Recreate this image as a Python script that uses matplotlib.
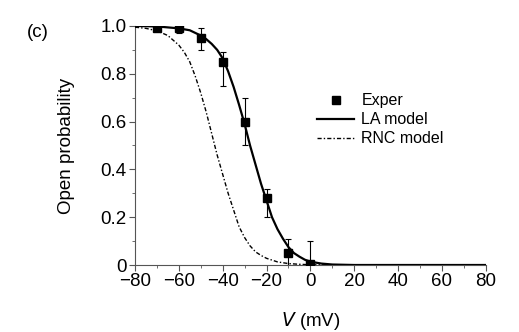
import matplotlib
matplotlib.use("Agg")
import matplotlib.pyplot as plt
from matplotlib.ticker import MultipleLocator

plt.rcParams['font.family'] = ['Liberation Sans', 'DejaVu Sans']

# Experimental data
exp_v = [-70, -60, -50, -40, -30, -20, -10, 0]
exp_p = [0.99, 0.99, 0.95, 0.85, 0.60, 0.28, 0.05, 0.005]
exp_err_up = [0.005, 0.01, 0.04, 0.04, 0.10, 0.04, 0.06, 0.095]
exp_err_dn = [0.005, 0.02, 0.05, 0.10, 0.10, 0.08, 0.05, 0.005]

# LA model curve
la_v = [-80, -70, -60, -55, -50, -47.5, -45, -42.5, -40, -37.5, -35, -32.5, -30,
        -27.5, -25, -22.5, -20, -17.5, -15, -12.5, -10, -7.5, -5, -2.5, 0, 5, 10, 20, 80]
la_p = [1.0, 0.998, 0.99, 0.982, 0.96, 0.945, 0.925, 0.90, 0.865, 0.81, 0.745, 0.67, 0.59,
        0.50, 0.42, 0.34, 0.27, 0.20, 0.15, 0.11, 0.075, 0.05, 0.035, 0.022, 0.014, 0.006, 0.002, 0.0, 0.0]

# RNC model curve
rnc_v = [-80, -75, -70, -65, -60, -57.5, -55, -52.5, -50, -47.5, -45, -42.5, -40, -37.5,
         -35, -32.5, -30, -27.5, -25, -22.5, -20, -15, -10, -5, 0, 10, 20]
rnc_p = [0.995, 0.99, 0.98, 0.96, 0.92, 0.89, 0.85, 0.79, 0.72, 0.64, 0.55, 0.46, 0.38, 0.30,
         0.23, 0.16, 0.115, 0.08, 0.055, 0.04, 0.028, 0.013, 0.006, 0.003, 0.001, 0.0, 0.0]

x_ticks = [-80, -60, -40, -20, 0, 20, 40, 60, 80]
x_ticklabels = ['\u221280', '\u221260', '\u221240', '\u221220', '0', '20', '40', '60', '80']
y_ticks = [0, 0.2, 0.4, 0.6, 0.8, 1.0]
y_ticklabels = ['0', '0.2', '0.4', '0.6', '0.8', '1.0']

fig = plt.figure(figsize=(5.19, 3.32), dpi=100)
ax = fig.add_axes([0.26, 0.2018, 0.676, 0.72])

ax.errorbar(exp_v, exp_p, yerr=[exp_err_dn, exp_err_up], fmt='none', ecolor='black',
            elinewidth=0.8, capsize=2.5, capthick=0.8, zorder=2)
ax.plot(exp_v, exp_p, 's', color='black', markersize=6, label='Exper', zorder=4)
ax.plot(la_v, la_p, '-', color='black', linewidth=1.6, label='LA model', zorder=3)
ax.plot(rnc_v, rnc_p, color='black', linewidth=1.0, linestyle=(0, (3, 1.5, 1, 1.5)),
        label='RNC model', zorder=3)

ax.set_xlim(-80, 80)
ax.set_ylim(0, 1.0)
ax.set_xticks(x_ticks)
ax.set_xticklabels(x_ticklabels)
ax.set_yticks(y_ticks)
ax.set_yticklabels(y_ticklabels)
ax.xaxis.set_minor_locator(MultipleLocator(10))
ax.yaxis.set_minor_locator(MultipleLocator(0.1))

for s in ['top', 'right']:
    ax.spines[s].set_visible(False)
for s in ['left', 'bottom']:
    ax.spines[s].set_color('#555555')
    ax.spines[s].set_linewidth(0.8)

ax.tick_params(axis='both', which='major', direction='out', length=4, width=0.8,
               color='#555555', labelsize=13.5, pad=2)
ax.tick_params(axis='both', which='minor', direction='out', length=2, width=0.6, color='#555555')

ax.set_xlabel(r'$\it{V}$ (mV)', fontsize=13.5, labelpad=14)
ax.set_ylabel('Open probability', fontsize=13.5, labelpad=18)

fig.text(0.052, 0.889, '(c)', fontsize=13.5, va='baseline')

leg = ax.legend(loc='upper left', bbox_to_anchor=(0.5, 0.745), frameon=False, fontsize=11.5,
                handlelength=2.35, handletextpad=0.45, labelspacing=0.25, borderaxespad=0)

fig.savefig('out.png', dpi=100)
